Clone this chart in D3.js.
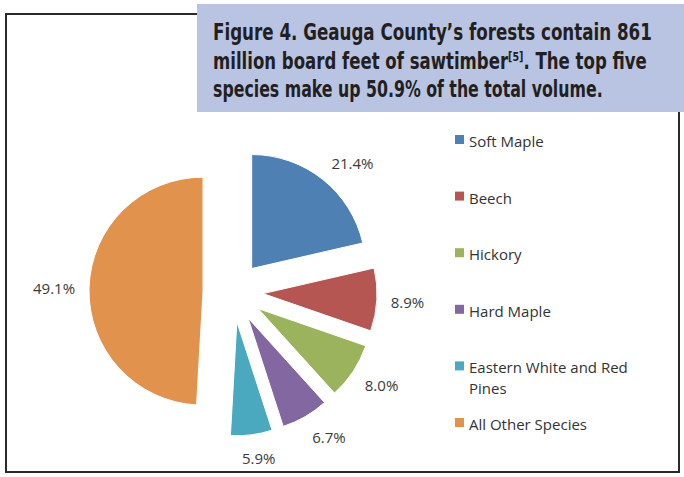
<!DOCTYPE html>
<html>
<head>
<meta charset="utf-8">
<script src="https://cdn.jsdelivr.net/npm/d3@7"></script>
<style>
  html, body { margin: 0; padding: 0; background: #ffffff; }
  svg { display: block; }
</style>
</head>
<body>
<svg id="chart" width="684" height="477"></svg>
<script>
// Sawtimber volume share by species (percent of total board feet)
const species = ["Soft Maple", "Beech", "Hickory", "Hard Maple", "Eastern White and Red Pines", "All Other Species"];
const shares = [21.4, 8.9, 8.0, 6.7, 5.9, 49.1];
const colors = ["#4e80b4", "#b65653", "#9ab35c", "#8367a0", "#4aa9be", "#e1924c"];

const titleLines = [
  [{ t: "Figure 4. Geauga County\u2019s forests contain 861" }],
  [{ t: "million board feet of sawtimber" }, { t: "[5]", sup: true }, { t: ". The top five" }],
  [{ t: "species make up 50.9% of the total volume." }]
];

const svg = d3.select("#chart");

// Outer chart frame
svg.append("rect")
  .attr("x", 6).attr("y", 14)
  .attr("width", 673).attr("height", 458)
  .attr("fill", "#ffffff")
  .attr("stroke", "#2a2a2a")
  .attr("stroke-width", 2);

// Caption box
svg.append("rect")
  .attr("x", 197).attr("y", 4)
  .attr("width", 487).attr("height", 108)
  .attr("fill", "#b9c4e3");

// Caption lines, each squeezed horizontally to its set width
const titleWidths = [439, 434, 390];
titleLines.forEach((parts, i) => {
  const row = svg.append("g");
  const txt = row.append("text")
    .attr("x", 0)
    .attr("y", 0)
    .attr("font-family", "'Liberation Sans Narrow', 'DejaVu Sans Condensed', 'Liberation Sans', sans-serif")
    .attr("font-weight", "bold")
    .attr("font-size", 22.5)
    .attr("fill", "#231f20");
  parts.forEach((p, k) => {
    const ts = txt.append("tspan").text(p.t);
    if (p.sup) ts.attr("font-size", 13).attr("dy", -8);
    else if (k > 0) ts.attr("dy", 8);
  });
  const natural = txt.node().getComputedTextLength();
  const sx = titleWidths[i] / natural;
  row.attr("transform", `translate(213,${40 + i * 28.6}) scale(${sx},1)`);
});

// Exploded pie
const cx = 233, cy = 292, R = 114, explode = 30;
const pie = d3.pie().sort(null).value(d => d)(shares);
const arc = d3.arc().innerRadius(0).outerRadius(R);

const g = svg.append("g").attr("transform", `translate(${cx},${cy})`);

g.selectAll("path.slice")
  .data(pie)
  .join("path")
  .attr("class", "slice")
  .attr("d", arc)
  .attr("fill", (d, i) => colors[i])
  .attr("stroke", "#ffffff")
  .attr("stroke-width", 1)
  .attr("transform", d => {
    const mid = (d.startAngle + d.endAngle) / 2;
    return `translate(${Math.sin(mid) * explode},${-Math.cos(mid) * explode})`;
  });

// Percentage labels placed outside each slice end
const fmt = d3.format(".1f");
g.selectAll("text.pct")
  .data(pie)
  .join("text")
  .attr("class", "pct")
  .attr("font-family", "'Open Sans', sans-serif")
  .attr("font-size", 15)
  .attr("fill", "#3a3a3a")
  .attr("text-anchor", "middle")
  .attr("dominant-baseline", "central")
  .text(d => fmt(d.data) + "%")
  .each(function (d) {
    const mid = (d.startAngle + d.endAngle) / 2;
    const dx = Math.sin(mid), dy = -Math.cos(mid);
    const rr = R + explode + 14;
    const w = this.getComputedTextLength() / 2;
    const hx = w * Math.max(-1, Math.min(1, dx * 2.5));
    const x = dx * rr + hx;
    const y = dy * rr + dy * 8 + 1;
    d3.select(this).attr("x", x).attr("y", y);
  });

// Legend
const lg = svg.append("g").attr("transform", "translate(455,141)");
const legendStep = 56.6;
species.forEach((label, i) => {
  const item = lg.append("g").attr("transform", `translate(0,${i * legendStep})`);
  item.append("rect")
    .attr("x", 0).attr("y", -6)
    .attr("width", 9).attr("height", 9)
    .attr("fill", colors[i]);
  const rows = label === "Eastern White and Red Pines" ? ["Eastern White and Red", "Pines"] : [label];
  rows.forEach((r, j) => {
    item.append("text")
      .attr("x", 14)
      .attr("y", j * 21)
      .attr("dominant-baseline", "central")
      .attr("font-family", "'Open Sans', sans-serif")
      .attr("font-size", 15)
      .attr("fill", "#333333")
      .text(r);
  });
});
</script>
</body>
</html>
